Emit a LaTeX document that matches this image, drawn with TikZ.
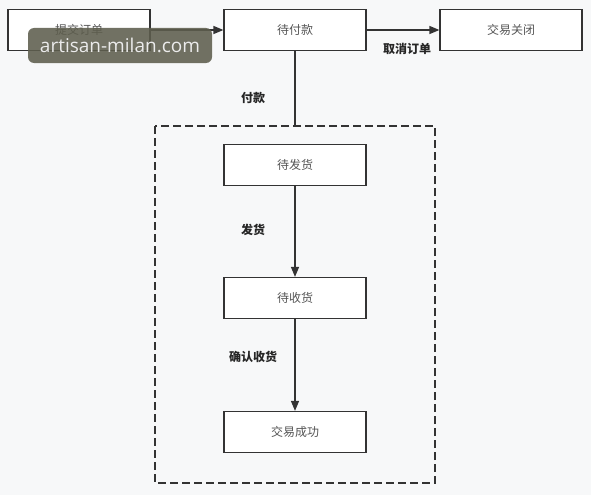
\documentclass[tikz,border=0pt]{standalone}
\usepackage{fontspec}
\newfontfamily\cjk{Noto Sans CJK SC}
\newfontfamily\wmfont{Open Sans}
\usetikzlibrary{arrows.meta}
\definecolor{bg}{HTML}{F7F8F9}
\definecolor{ln}{HTML}{333333}
\definecolor{tx}{HTML}{555555}
\definecolor{wm}{HTML}{5E5E4E}
\begin{document}
\begin{tikzpicture}[x=1pt,y=-1pt,
  state/.style={draw=ln,line width=1.2pt,fill=white,minimum width=142pt,minimum height=41pt,inner sep=0pt,font=\cjk\fontsize{12}{14}\selectfont,text=tx},
  lbl/.style={font=\cjk\bfseries\fontsize{12}{14}\selectfont,text=black!85},
  arr/.style={draw=ln,line width=1.4pt,-{Triangle[length=10pt,width=8pt]}},
  conn/.style={draw=ln,line width=1.4pt}]
\fill[bg] (0,0) rectangle (591,495);
\useasboundingbox (0,0) rectangle (591,495);
\draw[ln,line width=1.4pt,dash pattern=on 8pt off 4pt] (155,126) rectangle (435,483);
\node[state] (submit) at (79,30) {提交订单};
\node[state] (pay) at (295,30) {待付款};
\node[state] (closed) at (511,30) {交易关闭};
\node[state] (ship) at (295,165) {待发货};
\node[state] (recv) at (295,298) {待收货};
\node[state] (done) at (295,432) {交易成功};
\coordinate (dtop) at (295,126);
\draw[arr] (submit) -- (pay);
\draw[arr] (pay) -- (closed);
\draw[conn] (pay) -- (dtop);
\draw[arr] (ship) -- (recv);
\draw[arr] (recv) -- (done);
\node[lbl] (lcancel) at (407,49) {取消订单};
\node[lbl] (lpay) at (253,98) {付款};
\node[lbl] (lship) at (253,230) {发货};
\node[lbl] (lconf) at (253,357) {确认收货};
\node[fill=wm,fill opacity=0.88,text opacity=1,rounded corners=6pt,minimum width=184pt,minimum height=35pt,inner sep=0pt,text=white!92!black,font=\wmfont\fontsize{19}{21}\selectfont] (wmark) at (120,45.5) {artisan-milan.com};
\end{tikzpicture}
\end{document}
